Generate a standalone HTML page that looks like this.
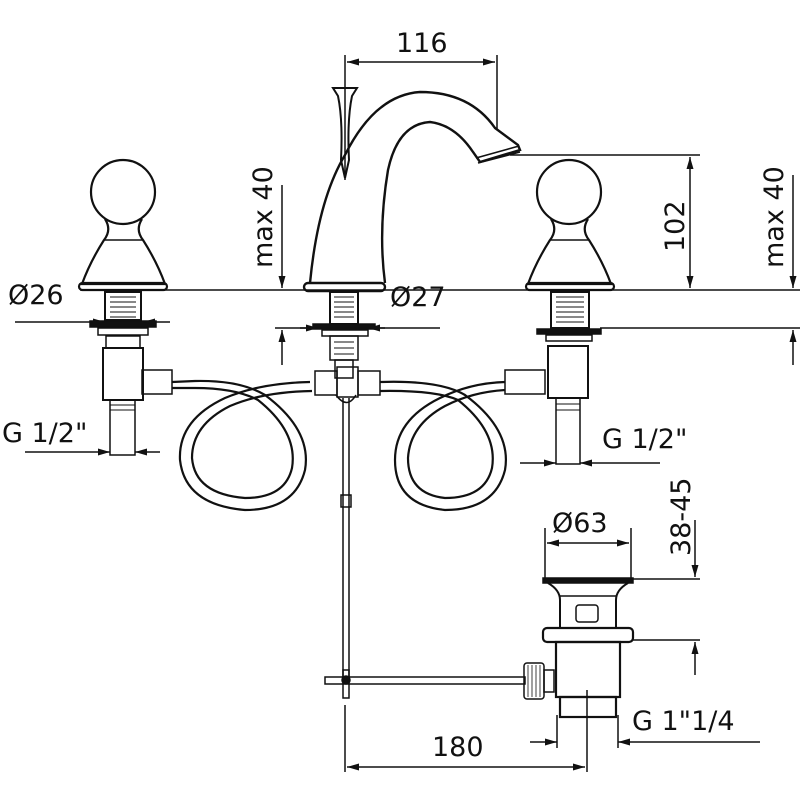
<!DOCTYPE html>
<html><head><meta charset="utf-8"><style>
html,body{margin:0;padding:0;background:#fff;}
svg{display:block}
text{font-family:"DejaVu Sans","Liberation Sans",sans-serif;fill:#111}
</style></head><body>
<svg width="800" height="800" viewBox="0 0 800 800" xmlns="http://www.w3.org/2000/svg">
<defs>
<marker id="a" viewBox="0 0 12 7" refX="12" refY="3.5" markerWidth="12" markerHeight="7" orient="auto-start-reverse" markerUnits="userSpaceOnUse"><path d="M0,0 L12,3.5 L0,7 z" fill="#111"/></marker>
</defs>
<g fill="none" stroke="#111" stroke-width="1.5">
<line x1="345" y1="55" x2="345" y2="180"/>
<line x1="497" y1="55" x2="497" y2="130"/>
<line x1="347" y1="62" x2="495" y2="62" marker-start="url(#a)" marker-end="url(#a)"/>
<path d="M333,88 L357,88 L352,96 Q347,120 349,160 L345,178 L341,160 Q343,120 338,96 Z" stroke-width="2"/>
<path d="M310,283 Q318,200 345,155 Q375,95 420,92 Q470,92 495,128 L518,145 L520,150 L480,162 L473,152 Q455,125 430,122 Q398,124 388,170 Q378,230 385,283" stroke-width="2.4"/>
<path d="M476,158 L519,146 M478,163 L520,152" stroke-width="1.6"/>
<rect x="304" y="283" width="81" height="8" rx="4" stroke-width="2.4"/>
<rect x="330" y="292" width="28" height="32" stroke-width="2"/>
<path d="M334,297h20M334,302h20M334,307h20M334,312h20M334,317h20" stroke-width="1"/>
<rect x="313" y="324" width="62" height="5" fill="#111"/>
<rect x="322" y="330" width="46" height="6"/>
<rect x="330" y="336" width="28" height="24"/>
<path d="M334,342h20M334,348h20M334,354h20" stroke-width="1"/>
<rect x="335" y="360" width="18" height="18"/>
<line x1="80" y1="290" x2="800" y2="290"/>
<line x1="600" y1="328" x2="800" y2="328"/>
<line x1="275" y1="328" x2="440" y2="328"/>
<line x1="282" y1="185" x2="282" y2="288" marker-end="url(#a)"/>
<line x1="282" y1="365" x2="282" y2="330" marker-end="url(#a)"/>
<line x1="793" y1="175" x2="793" y2="288" marker-end="url(#a)"/>
<line x1="793" y1="365" x2="793" y2="330" marker-end="url(#a)"/>
<line x1="510" y1="155" x2="700" y2="155"/>
<line x1="690" y1="157" x2="690" y2="288" marker-start="url(#a)" marker-end="url(#a)"/>
<line x1="300" y1="328" x2="318" y2="328" marker-end="url(#a)"/>
<line x1="385" y1="328" x2="368" y2="328" marker-end="url(#a)"/>
<circle cx="123" cy="192" r="32" stroke-width="2.2"/>
<path d="M105,219 Q112,230 104,240 Q90,262 82,284 L165,284 Q157,262 143,240 Q135,230 142,219" stroke-width="2.2"/>
<line x1="104" y1="240" x2="143" y2="240"/>
<rect x="79" y="283" width="88" height="7" rx="3.5" stroke-width="2.2"/>
<rect x="105" y="292" width="36" height="28" stroke-width="2"/>
<path d="M110,297h26M110,302h26M110,307h26M110,312h26M110,317h26" stroke-width="1"/>
<rect x="90" y="321" width="66" height="6" fill="#111"/>
<rect x="98" y="328" width="50" height="7"/>
<rect x="106" y="336" width="34" height="12"/>
<rect x="103" y="348" width="40" height="52" stroke-width="2"/>
<rect x="110" y="400" width="25" height="55"/>
<path d="M110,405h25M110,410h25" stroke-width="1"/>
<line x1="15" y1="322" x2="105" y2="322" marker-end="url(#a)"/>
<line x1="170" y1="322" x2="143" y2="322" marker-end="url(#a)"/>
<line x1="25" y1="452" x2="110" y2="452" marker-end="url(#a)"/>
<line x1="160" y1="452" x2="135" y2="452" marker-end="url(#a)"/>
<circle cx="569" cy="192" r="32" stroke-width="2.2"/>
<path d="M551,219 Q558,230 550,240 Q536,262 528,284 L611,284 Q603,262 589,240 Q581,230 588,219" stroke-width="2.2"/>
<line x1="550" y1="240" x2="589" y2="240"/>
<rect x="526" y="283" width="88" height="7" rx="3.5" stroke-width="2.2"/>
<rect x="551" y="292" width="38" height="36" stroke-width="2"/>
<path d="M556,297h28M556,302h28M556,307h28M556,312h28M556,317h28M556,322h28" stroke-width="1"/>
<rect x="537" y="329" width="64" height="5" fill="#111"/>
<rect x="546" y="335" width="46" height="6"/>
<rect x="548" y="346" width="40" height="52" stroke-width="2"/>
<rect x="556" y="398" width="24" height="66"/>
<path d="M556,404h24M556,410h24" stroke-width="1"/>
<line x1="520" y1="463" x2="556" y2="463" marker-end="url(#a)"/>
<line x1="660" y1="463" x2="580" y2="463" marker-end="url(#a)"/>
<rect x="142" y="370" width="30" height="24"/>
<rect x="505" y="370" width="40" height="24"/>
<rect x="315" y="371" width="22" height="24"/>
<rect x="358" y="371" width="22" height="24"/>
<rect x="337" y="367" width="21" height="30"/>
<path d="M336,395 Q347,410 356,395"/>
<line x1="343" y1="398" x2="343" y2="682"/>
<line x1="349" y1="398" x2="349" y2="682"/>
<rect x="341" y="495" width="10" height="12"/>
<path d="M172,382 L195,381 Q240,380 265,395 Q312,430 305,470 Q295,510 245,510 Q185,505 180,460 Q178,420 225,398 Q260,383 310,382" stroke-width="2.2"/>
<path d="M172,388 L195,388 Q235,388 258,400 Q298,432 292,468 Q285,498 245,498 Q195,494 192,458 Q192,425 230,406 Q262,392 312,391" stroke-width="2.2"/>
<path d="M380,382 Q440,380 465,395 Q512,430 505,470 Q495,510 445,510 Q395,505 395,460 Q395,420 440,398 Q470,383 505,382" stroke-width="2.2"/>
<path d="M380,391 Q435,390 458,400 Q498,432 492,468 Q485,498 445,498 Q408,494 408,458 Q410,425 445,406 Q472,392 505,390" stroke-width="2.2"/>
<rect x="325" y="677" width="200" height="7"/>
<circle cx="346" cy="680" r="4" fill="#111"/>
<rect x="343" y="670" width="6" height="28"/>
<rect x="524" y="663" width="20" height="36" rx="3"/>
<path d="M528,665v32M532,665v32M536,665v32M540,665v32" stroke-width="0.8"/>
<rect x="544" y="670" width="10" height="22"/>
<rect x="543" y="578" width="90" height="5" fill="#111"/>
<path d="M548,583 Q560,590 560,600 L560,628 M628,583 Q616,590 616,600 L616,628" stroke-width="2"/>
<line x1="560" y1="596" x2="616" y2="596"/>
<rect x="576" y="605" width="22" height="17" rx="3"/>
<rect x="543" y="628" width="90" height="14" rx="4" stroke-width="2.2"/>
<rect x="556" y="642" width="64" height="55" stroke-width="2.2"/>
<rect x="560" y="697" width="56" height="20" stroke-width="2.2"/>
<line x1="545" y1="528" x2="545" y2="578"/>
<line x1="631" y1="528" x2="631" y2="578"/>
<line x1="547" y1="543" x2="629" y2="543" marker-start="url(#a)" marker-end="url(#a)"/>
<line x1="633" y1="579" x2="700" y2="579"/>
<line x1="633" y1="640" x2="700" y2="640"/>
<line x1="695" y1="520" x2="695" y2="577" marker-end="url(#a)"/>
<line x1="695" y1="675" x2="695" y2="642" marker-end="url(#a)"/>
<line x1="587" y1="690" x2="587" y2="772"/>
<line x1="345" y1="705" x2="345" y2="772"/>
<line x1="347" y1="767" x2="585" y2="767" marker-start="url(#a)" marker-end="url(#a)"/>
<line x1="557" y1="715" x2="557" y2="748"/>
<line x1="618" y1="715" x2="618" y2="748"/>
<line x1="530" y1="742" x2="557" y2="742" marker-end="url(#a)"/>
<line x1="760" y1="742" x2="618" y2="742" marker-end="url(#a)"/>
</g>
<g font-size="27">
<text x="396" y="52">116</text>
<text x="8" y="304">Ø26</text>
<text x="390" y="306">Ø27</text>
<text x="2" y="442">G 1/2"</text>
<text x="602" y="448">G 1/2"</text>
<text x="552" y="532">Ø63</text>
<text x="432" y="756">180</text>
<text x="632" y="730">G 1"1/4</text>
<text transform="translate(272,268) rotate(-90)">max 40</text>
<text transform="translate(783,268) rotate(-90)">max 40</text>
<text transform="translate(684,252) rotate(-90)">102</text>
<text transform="translate(690,556) rotate(-90)">38-45</text>
</g>
</svg>
</body></html>
